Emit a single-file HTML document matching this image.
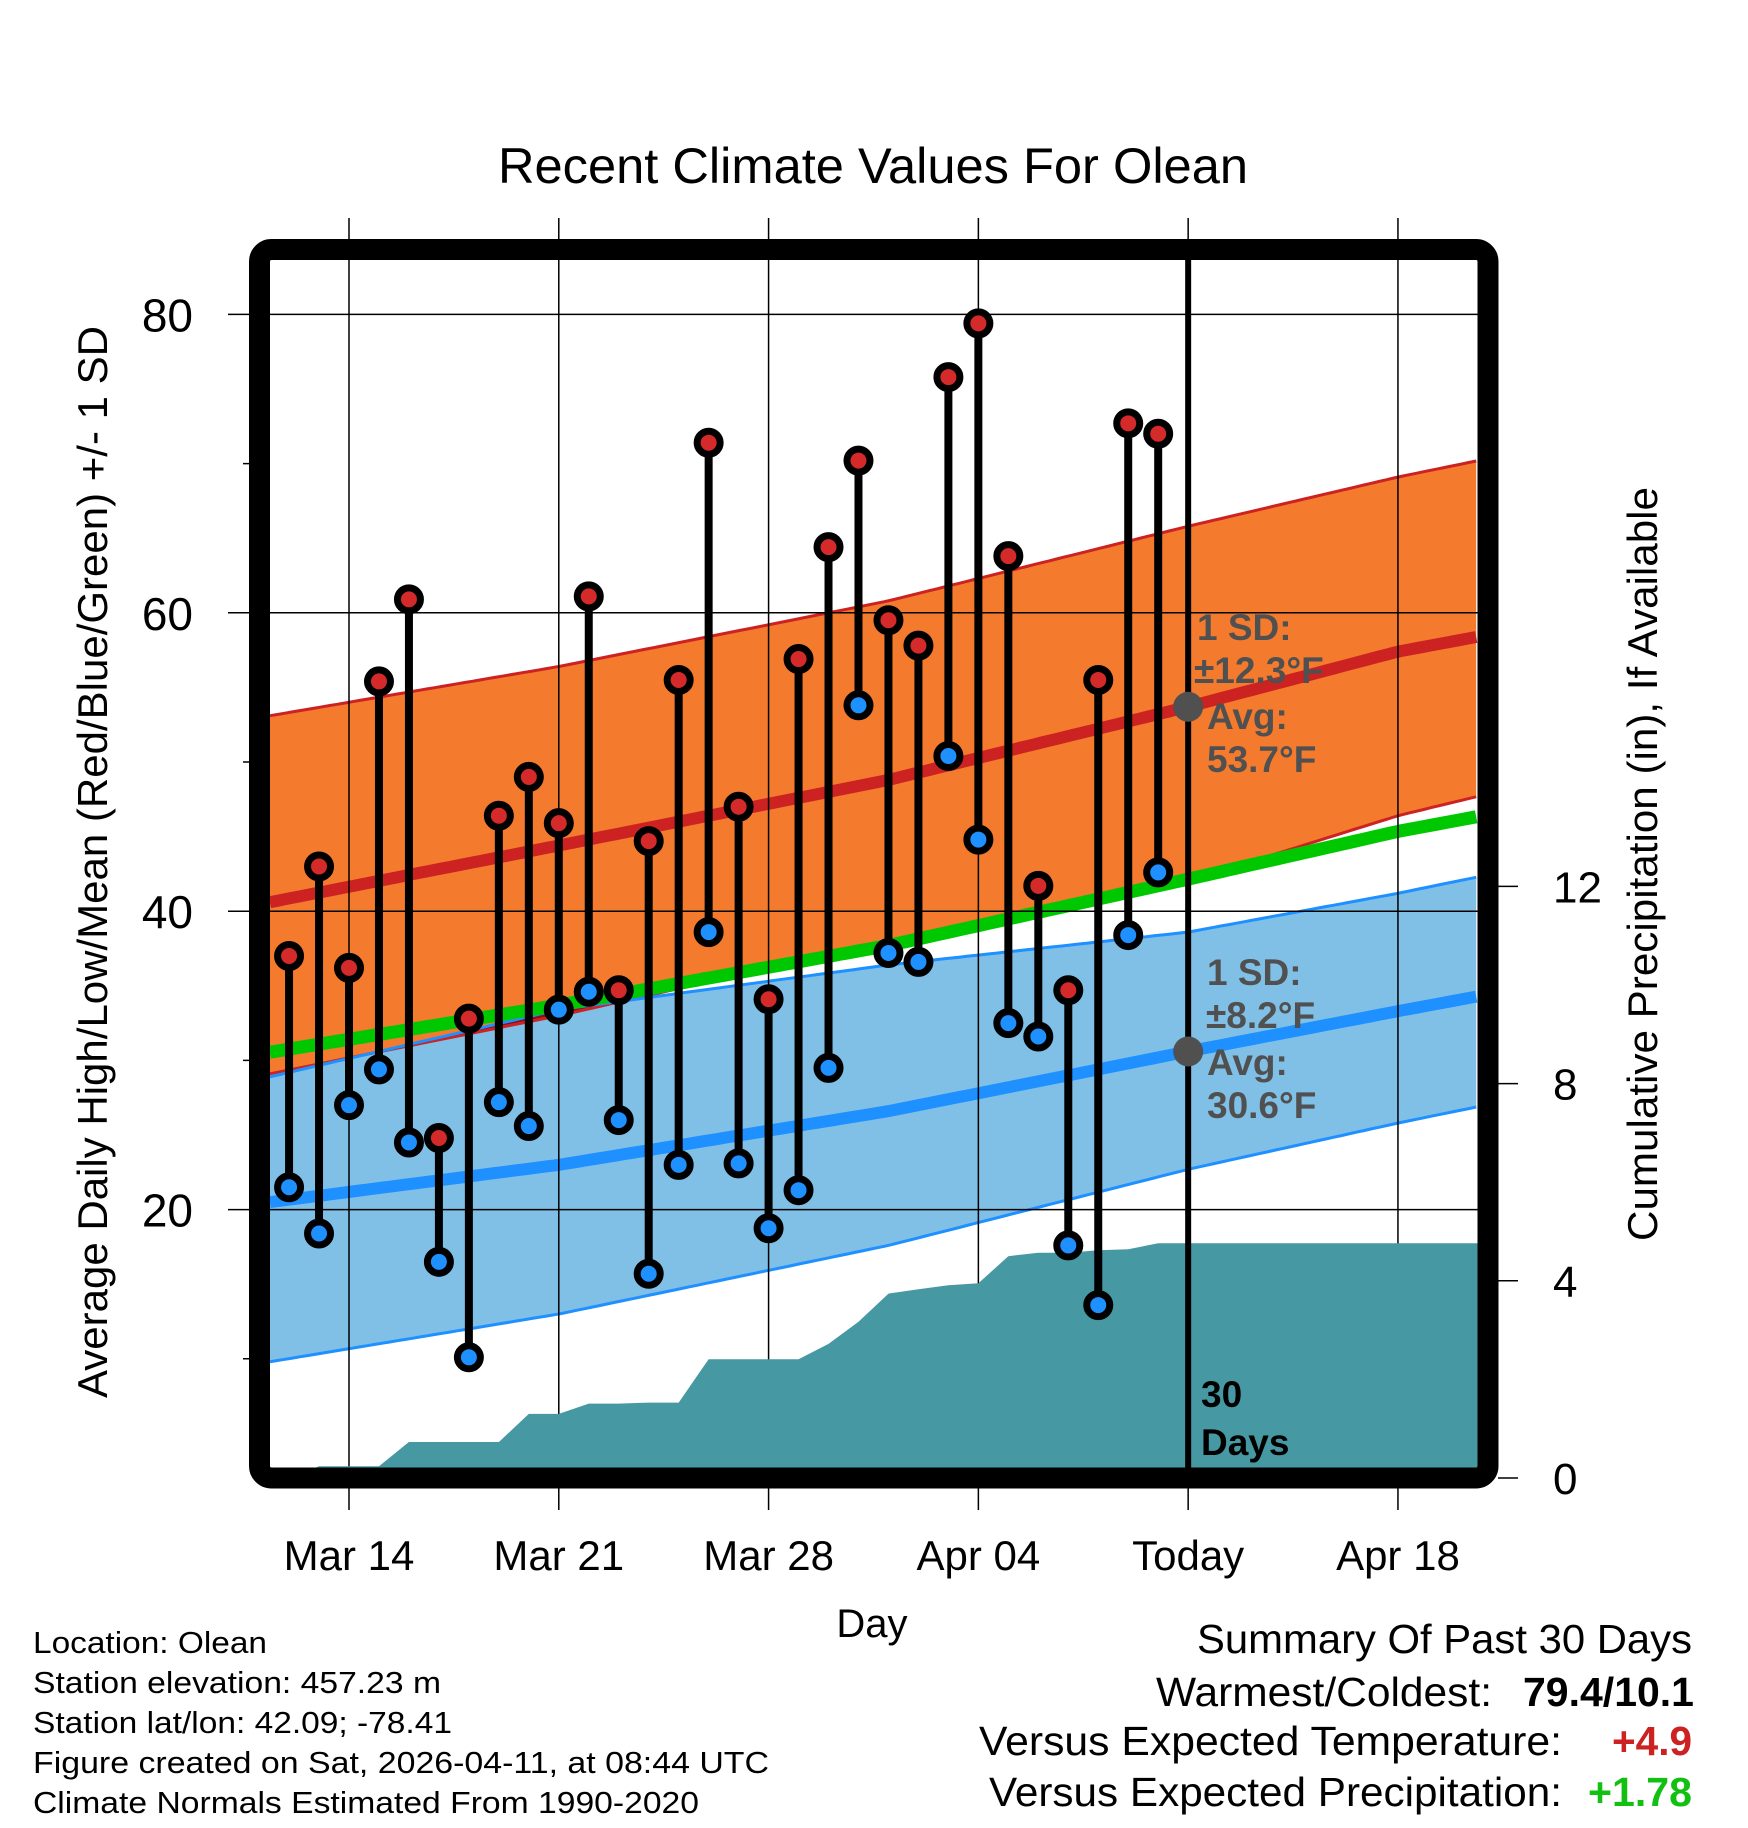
<!DOCTYPE html>
<html><head><meta charset="utf-8"><style>
html,body{margin:0;padding:0;background:#fff;}
svg{display:block;font-family:"Liberation Sans",Arial,sans-serif;}
</style></head><body>
<svg id="chart" width="1748" height="1828" viewBox="0 0 1748 1828" xmlns="http://www.w3.org/2000/svg">
<text x="873" y="183" font-size="50" text-anchor="middle" textLength="750" lengthAdjust="spacingAndGlyphs">Recent Climate Values For Olean</text>
<g id="plot"></g>
<text transform="translate(107,862) rotate(-90)" font-size="42" text-anchor="middle" textLength="1072" lengthAdjust="spacingAndGlyphs">Average Daily High/Low/Mean (Red/Blue/Green) +/- 1 SD</text>
<text transform="translate(1657,864) rotate(-90)" font-size="42" text-anchor="middle" textLength="754" lengthAdjust="spacingAndGlyphs">Cumulative Precipitation (in), If Available</text>
<text x="872" y="1637" font-size="40" text-anchor="middle">Day</text>
<g font-size="31">
<text x="33" y="1653" textLength="234" lengthAdjust="spacingAndGlyphs">Location: Olean</text>
<text x="33" y="1693" textLength="408" lengthAdjust="spacingAndGlyphs">Station elevation: 457.23 m</text>
<text x="33" y="1733" textLength="419" lengthAdjust="spacingAndGlyphs">Station lat/lon: 42.09; -78.41</text>
<text x="33" y="1773" textLength="736" lengthAdjust="spacingAndGlyphs">Figure created on Sat, 2026-04-11, at 08:44 UTC</text>
<text x="33" y="1813" textLength="666" lengthAdjust="spacingAndGlyphs">Climate Normals Estimated From 1990-2020</text>
</g>
<g font-size="41">
<text x="1692" y="1653" text-anchor="end" textLength="495" lengthAdjust="spacingAndGlyphs">Summary Of Past 30 Days</text>
<text x="1492" y="1706" text-anchor="end" textLength="336" lengthAdjust="spacingAndGlyphs">Warmest/Coldest:</text>
<text x="1694" y="1706" text-anchor="end" font-weight="bold" textLength="171" lengthAdjust="spacingAndGlyphs">79.4/10.1</text>
<text x="1562" y="1755" text-anchor="end" textLength="583" lengthAdjust="spacingAndGlyphs">Versus Expected Temperature:</text>
<text x="1692" y="1755" text-anchor="end" font-weight="bold" fill="#cc2222" textLength="80" lengthAdjust="spacingAndGlyphs">+4.9</text>
<text x="1562" y="1806" text-anchor="end" textLength="573" lengthAdjust="spacingAndGlyphs">Versus Expected Precipitation:</text>
<text x="1692" y="1806" text-anchor="end" font-weight="bold" fill="#11c011" textLength="104" lengthAdjust="spacingAndGlyphs">+1.78</text>
</g>
</svg>
<script>
// Days are offsets from Mar 14
const obsDays = [-2,-1,0,1,2,3,4,5,6,7,8,9,10,11,12,13,14,15,16,17,18,19,20,21,22,23,24,25,26,27];
const highs = [37.0,43.0,36.2,55.4,60.9,24.8,32.8,46.4,49.0,45.9,61.1,34.7,44.7,55.5,71.4,47.0,34.1,56.9,64.4,70.2,59.5,57.8,75.8,79.4,63.8,41.7,34.7,55.5,72.7,72.0];
const lows = [21.5,18.4,27.0,29.4,24.5,16.5,10.1,27.2,25.6,33.4,34.6,26.0,15.7,23.0,38.6,23.1,18.75,21.3,29.5,53.8,37.2,36.6,50.4,44.8,32.5,31.6,17.6,13.6,38.4,42.6];
const normDays = [-2.64,7,18,28,35,37.67];
const normHigh = [40.6,44.4,48.8,53.7,57.4,58.4];
const normLow = [20.5,23.0,26.6,30.6,33.3,34.3];
const highUpper = [53.1,56.4,60.8,65.8,69.1,70.2];
const highLower = [29.1,33.0,38.0,42.0,46.4,47.7];
const lowUpper = [28.9,33.4,36.4,38.6,41.2,42.3];
const lowLower = [9.8,13.0,17.6,22.7,25.8,26.9];
const sdHigh = 12.3, sdLow = 8.2;
const precipDays = [-2.64,-2,-1,0,1,2,3,4,5,6,7,8,9,10,11,12,13,14,15,16,17,18,19,20,21,22,23,24,25,26,27,37.67];
const precipVals = [0,0,0.24,0.24,0.24,0.73,0.73,0.73,0.73,1.30,1.30,1.51,1.51,1.53,1.53,2.41,2.41,2.41,2.41,2.72,3.17,3.74,3.83,3.91,3.95,4.50,4.57,4.57,4.62,4.64,4.76,4.76];
const tempTicks = [20,40,60,80];
const minorTicks = [10,30,50,70];
const precipTicks = [0,4,8,12];
const xTickDays = [0,7,14,21,28,35];
const xTickLabels = ["Mar 14","Mar 21","Mar 28","Apr 04","Today","Apr 18"];
const todayDay = 28;

const NS="http://www.w3.org/2000/svg";
const plot=document.getElementById('plot');
const L=270,R=1478,T=260,B=1468;
const xs=d=>349+29.97*d;
const ys=t=>1508-14.92*t;
const yp=p=>1478-49.3*p;
function mk(tag,attrs,parent){const e=document.createElementNS(NS,tag);for(const k in attrs)e.setAttribute(k,attrs[k]);(parent||plot).appendChild(e);return e;}
function interp(xa,ya,x){for(let i=0;i<xa.length-1;i++){if(x<=xa[i+1]){const f=(x-xa[i])/(xa[i+1]-xa[i]);return ya[i]+f*(ya[i+1]-ya[i]);}}return ya[ya.length-1];}
const samp=[];for(let d=normDays[0];d<=normDays[normDays.length-1]+0.001;d+=0.25)samp.push(d);
const line=(f)=>samp.map(d=>xs(d).toFixed(1)+','+ys(f(d)).toFixed(1));
const nh=d=>interp(normDays,normHigh,d), nl=d=>interp(normDays,normLow,d);
const hu=d=>interp(normDays,highUpper,d), hl=d=>interp(normDays,highLower,d);
const lu=d=>interp(normDays,lowUpper,d), ll=d=>interp(normDays,lowLower,d);

let p=mk('polygon',{points:line(lu).concat(line(ll).reverse()).join(' '),fill:'#80c0e6'});


p=mk('polygon',{points:line(hu).concat(line(hl).reverse()).join(' '),fill:'#f47a2e'});


p=mk('polygon',{points:line(d=>Math.max(lu(d),hl(d))).concat(line(hl).reverse()).join(' '),fill:'#8e0e16'});


[[hu,'#cc2222','high-sd-upper'],[hl,'#cc2222','high-sd-lower'],[lu,'#1e90ff','low-sd-upper'],[ll,'#1e90ff','low-sd-lower']].forEach(a=>{
 const e=mk('polyline',{points:line(a[0]).join(' '),fill:'none',stroke:a[1],'stroke-width':3});
 
 
});
p=mk('polyline',{points:line(d=>(nh(d)+nl(d))/2).join(' '),fill:'none',stroke:'#00c800','stroke-width':13});


p=mk('polyline',{points:line(nh).join(' '),fill:'none',stroke:'#cc2222','stroke-width':12});


p=mk('polyline',{points:line(nl).join(' '),fill:'none',stroke:'#1e90ff','stroke-width':12});



tempTicks.forEach(t=>{
 const g=mk('line',{x1:228,x2:1498,y1:ys(t),y2:ys(t),stroke:'#000','stroke-width':1.5});
 
 
 const tx=mk('text',{x:193,y:ys(t)+17,'font-size':46,'text-anchor':'end'});
 tx.textContent=t;
 
 
});
minorTicks.forEach(t=>{
 const g=mk('line',{x1:243,x2:260,y1:ys(t),y2:ys(t),stroke:'#000','stroke-width':1.5});
 
 
});
xTickDays.forEach((d,i)=>{
 const g=mk('line',{x1:xs(d),x2:xs(d),y1:218,y2:1510,stroke:'#000','stroke-width':1.5});
 
 
 const tx=mk('text',{x:xs(d),y:1570,'font-size':42,'text-anchor':'middle'});
 tx.textContent=xTickLabels[i];
 
 
});
precipTicks.forEach(v=>{
 const g=mk('line',{x1:1498,x2:1518,y1:yp(v),y2:yp(v),stroke:'#000','stroke-width':1.5});
 
 
 const tx=mk('text',{x:1553,y:yp(v)+16,'font-size':44});
 tx.textContent=v;
 
 
});

let pts=precipDays.map((d,i)=>xs(d).toFixed(1)+','+yp(precipVals[i]).toFixed(1));
pts.push(xs(precipDays[precipDays.length-1])+','+yp(0));pts.push(xs(precipDays[0])+','+yp(0));
p=mk('polygon',{points:pts.join(' '),fill:'#4699a3'});



p=mk('line',{x1:xs(todayDay),x2:xs(todayDay),y1:T,y2:B,stroke:'#000','stroke-width':6});



const ann=mk('g',{fill:'#505050','font-weight':'bold','font-size':37});


const tH=nh(todayDay), tL=nl(todayDay);
p=mk('circle',{cx:xs(todayDay),cy:ys(tH),r:15,fill:'#505050'},ann);


p=mk('circle',{cx:xs(todayDay),cy:ys(tL),r:15,fill:'#505050'},ann);


[["1 SD:",1197,640],["\u00B1"+sdHigh.toFixed(1)+"\u00B0F",1194,683],["Avg:",1207,729],[tH.toFixed(1)+"\u00B0F",1207,772],
 ["1 SD:",1207,985],["\u00B1"+sdLow.toFixed(1)+"\u00B0F",1206,1028],["Avg:",1207,1075],[tL.toFixed(1)+"\u00B0F",1207,1118]].forEach(a=>{
 const t=mk('text',{x:a[1],y:a[2]},ann);t.textContent=a[0];
 
 
});
const dt=mk('g',{'font-weight':'bold','font-size':37,fill:'#000'});


mk('text',{x:1201,y:1407},dt).textContent="30";
mk('text',{x:1201,y:1455},dt).textContent="Days";

obsDays.forEach((d,i)=>{
 const g=mk('g',{});
 
 
 mk('line',{x1:xs(d),x2:xs(d),y1:ys(highs[i]),y2:ys(lows[i]),stroke:'#000','stroke-width':8},g);
 const h=mk('circle',{cx:xs(d),cy:ys(highs[i]),r:11.5,fill:'#d42a2a',stroke:'#000','stroke-width':7},g);
 
 
 const l=mk('circle',{cx:xs(d),cy:ys(lows[i]),r:11.5,fill:'#1e90ff',stroke:'#000','stroke-width':7},g);
 
 
});

p=mk('rect',{x:259.5,y:249.5,width:1228.5,height:1228.5,rx:12,fill:'none',stroke:'#000','stroke-width':21});


</script>
</body></html>
